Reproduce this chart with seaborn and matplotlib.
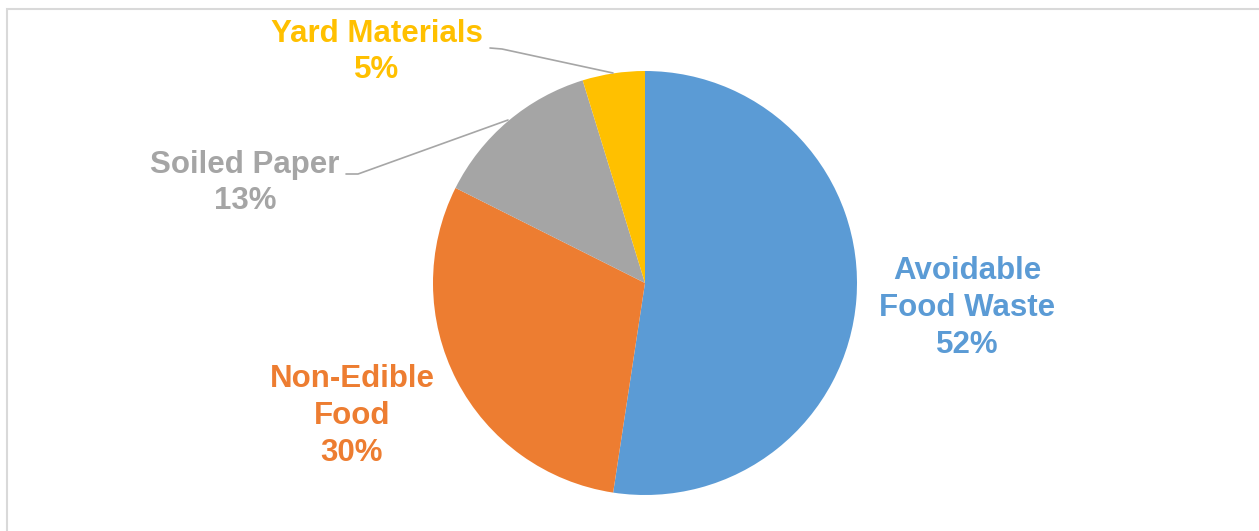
import matplotlib
matplotlib.use("Agg")
import matplotlib.pyplot as plt
import seaborn as sns
from matplotlib.patches import Rectangle

categories = ["Avoidable Food Waste", "Non-Edible Food", "Soiled Paper", "Yard Materials"]
label_texts = ["Avoidable\nFood Waste", "Non-Edible\nFood", "Soiled Paper", "Yard Materials"]
values = [52.4, 30.0, 12.85, 4.75]
colors = ["#5B9BD5", "#ED7D31", "#A5A5A5", "#FFC000"]

sns.set_theme(style="white")
plt.rcParams['font.family'] = ['Liberation Sans', 'DejaVu Sans']

W, H = 1259, 531
fig = plt.figure(figsize=(W / 100, H / 100), dpi=100)
ax = fig.add_axes([0, 0, 1, 1])

def py(y):
    return H - y

cx, cy, r = 645, py(283), 212
wedges, _ = ax.pie(values, colors=colors, startangle=90, counterclock=False,
                   center=(cx, cy), radius=r, frame=True,
                   wedgeprops=dict(linewidth=0, edgecolor="white"))
ax.set_xlim(0, W)
ax.set_ylim(0, H)
ax.set_aspect("equal")
ax.axis("off")

# frame
ax.add_patch(Rectangle((7, py(540)), 1300, 531, fill=False, edgecolor="#D9D9D9", lw=1.5))

label_pos = [(967, 308), (352, 416), (245, 183), (377, 52)]
total = sum(values)
for txt, v, col, (x, y) in zip(label_texts, values, colors, label_pos):
    ax.text(x, py(y), f"{txt}\n{round(v / total * 100):.0f}%", color=col, fontsize=22.5,
            fontweight="bold", ha="center", va="center", linespacing=1.29)

# leader lines
ax.plot([490, 502, 613], [py(48), py(49), py(73)], color="#A6A6A6", lw=1.2)
ax.plot([346, 358, 508], [py(174), py(174), py(120)], color="#A6A6A6", lw=1.2)

fig.savefig("out.png", dpi=100)
